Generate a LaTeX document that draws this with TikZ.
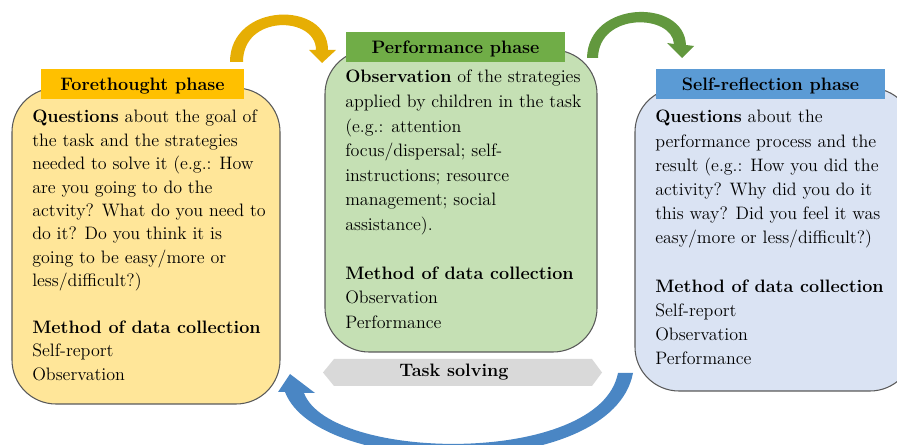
\documentclass[tikz,border=0pt]{standalone}
\definecolor{yfill}{HTML}{FFE699}
\definecolor{ylab}{HTML}{FFC000}
\definecolor{gfill}{HTML}{C5E0B4}
\definecolor{glab}{HTML}{70AD47}
\definecolor{bfill}{HTML}{DAE3F3}
\definecolor{blab}{HTML}{5B9BD5}
\definecolor{tsfill}{HTML}{D9D9D9}
\definecolor{yarr}{HTML}{E6AE04}
\definecolor{garr}{HTML}{62983E}
\definecolor{barr}{HTML}{4A86C4}
\begin{document}
\begin{tikzpicture}[x=0.75pt,y=-0.75pt,
  box/.style={draw=black!65, line width=0.8pt, rounded corners=33pt, inner sep=0pt},
  lab/.style={inner sep=0pt, minimum height=22.5pt, text height=10pt, text depth=0.6pt,
    font=\bfseries\fontsize{13.5}{17}\selectfont},
  txt/.style={inner sep=0pt, anchor=base west}]
\useasboundingbox (0,0) rectangle (897,445);

% boxes
\node[box, fill=yfill, minimum width=201pt, minimum height=237pt] (yb) at (146,246) {};
\node[box, fill=gfill, minimum width=204pt, minimum height=226.5pt] (gb) at (461,201) {};
\node[box, fill=bfill, minimum width=209.25pt, minimum height=227.25pt] (bb) at (774.5,239.5) {};

% labels
\node[lab, fill=ylab, minimum width=152.25pt] (yl) at (142.5,84) {Forethought phase};
\node[lab, fill=glab, minimum width=164.25pt] (gl) at (455.5,47) {Performance phase};
\node[lab, fill=blab, minimum width=171.75pt] (bl) at (770.5,84) {Self-reflection phase};

% texts
\node[txt] (yt) at (32,123) {\parbox[t]{260pt}{\fontsize{13.5}{17.55}\selectfont
\textbf{Questions} about the goal of\\
the task and the strategies\\
needed to solve it (e.g.: How\\
are you going to do the\\
actvity? What do you need to\\
do it? Do you think it is\\
going to be easy/more or\\
less/difficult?)\\[17.55pt]
\textbf{Method of data collection}\\
Self-report\\
Observation}};

\node[txt] (gt) at (345,83) {\parbox[t]{260pt}{\fontsize{13.5}{18.4}\selectfont
\textbf{Observation} of the strategies\\
applied by children in the task\\
(e.g.: attention\\
focus/dispersal; self-\\
instructions; resource\\
management; social\\
assistance).\\[18.4pt]
\textbf{Method of data collection}\\
Observation\\
Performance}};

\node[txt] (bt) at (655,123) {\parbox[t]{260pt}{\fontsize{13.5}{18.15}\selectfont
\textbf{Questions} about the\\
performance process and the\\
result (e.g.: How you did the\\
activity? Why did you do it\\
this way? Did you feel it was\\
easy/more or less/difficult?)\\[18.15pt]
\textbf{Method of data collection}\\
Self-report\\
Observation\\
Performance}};

% task solving
\fill[tsfill] (323,372.5) -- (334,359) -- (592,359) -- (602,372.5) -- (592,386) -- (334,386) -- cycle;
\node[inner sep=0pt, anchor=base, font=\bfseries\fontsize{13.5}{17}\selectfont] (ts) at (454,376.7) {Task solving};

% curved arrows
\fill[yarr]
  (230,62) .. controls (230,2) and (328,0) .. (328,50) -- (336,50) -- (322,63) -- (309,50) -- (316,50)
  .. controls (316,16) and (243,14) .. (243,62) -- cycle;
\fill[garr]
  (587,58) .. controls (588,0) and (684,-2) .. (686,45) -- (694,46) -- (682,58) -- (667,43) -- (674,44)
  .. controls (672,14) and (599,12) .. (598,58) -- cycle;
\fill[barr]
  (285,392) .. controls (318,478) and (612,482) .. (633,373) -- (618,373)
  .. controls (600,466) and (330,462) .. (304,393) -- (315,393) -- (290,374) -- (278,392) -- cycle;
\end{tikzpicture}
\end{document}
